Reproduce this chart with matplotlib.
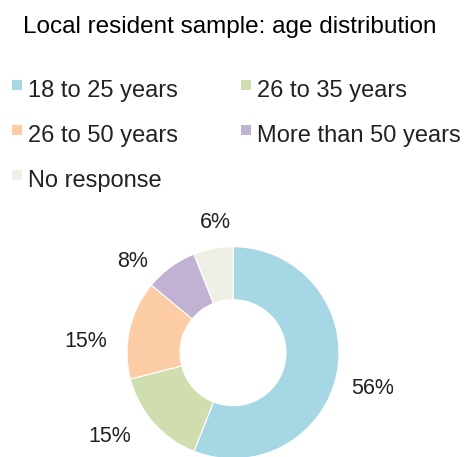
import numpy as np
import matplotlib
matplotlib.use("Agg")
import matplotlib.pyplot as plt
from matplotlib.patches import Rectangle

# Age groups and their share of the local resident sample (percent)
categories = ["18 to 25 years", "26 to 35 years", "26 to 50 years",
              "More than 50 years", "No response"]
shares = [56, 15, 15, 8, 6]
colors = ["#a6d7e4", "#cfddaf", "#fccca4", "#c1b2d3", "#f0efe6"]
title = "Local resident sample: age distribution"

W, H = 466, 457
plt.rcParams["font.family"] = ["Liberation Sans", "DejaVu Sans"]
fig = plt.figure(figsize=(W / 100, H / 100), dpi=100)


def fx(x):
    return x / W


def fy(y):
    return 1 - y / H


# Title
fig.text(fx(23), fy(33), title, fontsize=17.5, color="#000000",
         ha="left", va="baseline")

# Legend: two columns, filled row by row
col_x = [12, 241]
row_base = [97, 142, 187]
sq = 10
for i, (lab, c) in enumerate(zip(categories, colors)):
    r, k = divmod(i, 2)
    x0 = col_x[k]
    yb = row_base[r]
    fig.patches.append(Rectangle((fx(x0), fy(yb - 7)), sq / W, sq / H,
                                 transform=fig.transFigure, facecolor=c,
                                 edgecolor="none"))
    fig.text(fx(x0 + 16), fy(yb), lab, fontsize=17, color="#222222",
             ha="left", va="baseline")

# Donut
cx, cy, R = 233, 352.7, 106
ax = fig.add_axes([fx(cx - R), fy(cy + R), 2 * R / W, 2 * R / H])
wedges, _ = ax.pie(shares, colors=colors, startangle=90, counterclock=False,
                   radius=1.0,
                   wedgeprops=dict(width=0.5, edgecolor="white", linewidth=0.8))
ax.set_xlim(-1, 1)
ax.set_ylim(-1, 1)
ax.set_aspect("equal")
ax.axis("off")

# Percentage labels, placed around the ring with small layout nudges
label_r = 1.25
nudges = [(0.093, -0.155), (-0.222, -0.017), (-0.172, -0.219),
          (-0.217, -0.202), (0.069, -0.056)]
for w, v, (dx, dy) in zip(wedges, shares, nudges):
    mid = np.deg2rad((w.theta1 + w.theta2) / 2)
    x = label_r * np.cos(mid) + dx
    y = label_r * np.sin(mid) + dy
    ax.text(x, y, f"{v}%", fontsize=15.5, color="#222222",
            ha="center", va="baseline", clip_on=False)

fig.savefig("out.png", dpi=100)
